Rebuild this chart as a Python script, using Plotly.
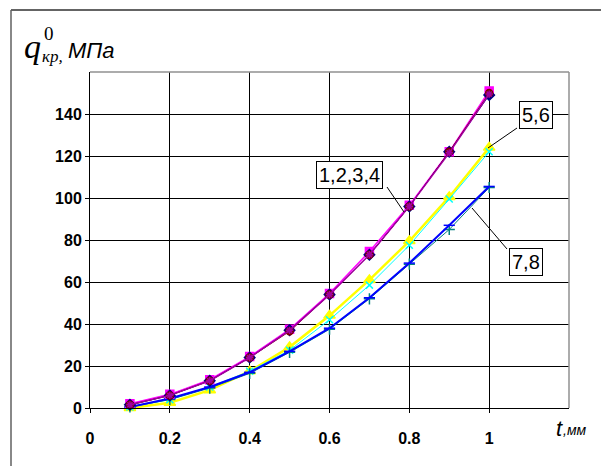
import plotly.graph_objects as go

# ---- data ----
t_mm = [0.1, 0.2, 0.3, 0.4, 0.5, 0.6, 0.7, 0.8, 0.9, 1.0]
s1_navy = [1.5, 6, 13, 24, 37, 54, 73, 96, 122, 149]
s2_magenta = [2, 6.5, 13.5, 24.5, 37.5, 54.5, 74.5, 96.5, 122, 151]
s3_purple = [1.5, 6, 13, 24, 37, 54, 73, 96, 121.5, 149.5]
s4_darkred = [1.5, 6, 13, 24, 36.5, 54, 73, 96, 122, 150]
s5_yellow = [0, 2.5, 8.5, 17.5, 29, 44, 61, 79.5, 100.5, 124]
s6_cyan = [0.5, 4, 10, 17.5, 27.5, 42, 58.5, 77.5, 99.5, 122]
s7_teal = [0.5, 4, 9.5, 16.5, 26.5, 37.5, 52, 68.5, 85, 105]
s8_blue = [0.5, 4.5, 10, 17, 27, 38, 52.5, 69, 87, 105.5]

x_tickvals = [0, 0.2, 0.4, 0.6, 0.8, 1.0]
x_ticktext = ["0", "0.2", "0.4", "0.6", "0.8", "1"]
y_tickvals = [0, 20, 40, 60, 80, 100, 120, 140]
y_ticktext = ["0", "20", "40", "60", "80", "100", "120", "140"]

group_labels = ["1,2,3,4", "5,6", "7,8"]

OFF = 8  # page body margin
W, H = 609, 466
L, R, T, B = 82, 48, 64, 66
PW, PH = W - L - R, H - T - B


def px(xp):
    return (xp - OFF - L) / PW


def py(yp):
    return (H - B + OFF - yp) / PH


series = [
    (s5_yellow, "#FFFF00", "triangle-up", 2.5, 10),
    (s6_cyan, "#00FFFF", "x-thin-open", 1.0, 7),
    (s7_teal, "#008080", "cross-thin-open", 1.0, 8),
    (s8_blue, "#0000FF", "line-ew-open", 2.0, 8),
    (s2_magenta, "#FF00FF", "square", 1.5, 8),
    (s1_navy, "#000080", "diamond", 1.0, 8),
    (s4_darkred, "#800000", "circle", 1.0, 7),
    (s3_purple, "#A000A0", "asterisk-open", 1.5, 6),
]

fig = go.Figure()
for ys, col, sym, lw, ms in series:
    fig.add_trace(go.Scatter(
        x=t_mm, y=ys, mode="lines+markers",
        line=dict(color=col, width=lw),
        marker=dict(symbol=sym, size=ms, color=col, line=dict(color=col, width=1.5)),
        showlegend=False, cliponaxis=False,
    ))

tickfont = dict(family="Liberation Sans, Arial", size=16, color="black", weight="bold")
fig.update_layout(
    width=W, height=H,
    margin=dict(l=L, r=R, t=T, b=B),
    paper_bgcolor="white", plot_bgcolor="white",
    xaxis=dict(range=[0, 1.2], tickvals=x_tickvals, ticktext=x_ticktext,
               showgrid=True, gridcolor="black", gridwidth=1,
               showline=True, linecolor="black", linewidth=1,
               ticks="outside", ticklen=4, tickcolor="black",
               tickfont=tickfont, ticklabelstandoff=12, zeroline=False),
    yaxis=dict(range=[0, 160], tickvals=y_tickvals, ticktext=y_ticktext,
               showgrid=True, gridcolor="black", gridwidth=1,
               showline=True, linecolor="black", linewidth=1,
               ticks="outside", ticklen=4, tickcolor="black",
               tickfont=tickfont, zeroline=False),
)

# plot-area top and right borders (gray)
fig.add_shape(type="line", xref="paper", yref="paper", x0=0, x1=1, y0=1, y1=1,
              line=dict(color="#909090", width=1.5))
fig.add_shape(type="line", xref="paper", yref="paper", x0=1, x1=1, y0=0, y1=1,
              line=dict(color="#909090", width=1.5))
# outer frame (top and left)
fig.add_shape(type="line", xref="paper", yref="paper", x0=px(11), x1=px(620), y0=py(10), y1=py(10),
              line=dict(color="#303030", width=1.5))
fig.add_shape(type="line", xref="paper", yref="paper", x0=px(11), x1=px(11), y0=py(10), y1=py(480),
              line=dict(color="#606060", width=1.5))

# leader lines
leaders = [((387, 187), (404, 212)), ((517, 128), (488, 148)), ((507, 249), (472, 208))]
for (a, b) in leaders:
    fig.add_shape(type="line", xref="paper", yref="paper",
                  x0=px(a[0]), y0=py(a[1]), x1=px(b[0]), y1=py(b[1]),
                  line=dict(color="black", width=1))

box_centers = [(349, 175), (536, 115), (525.5, 261.5)]
for lab, (cx, cy) in zip(group_labels, box_centers):
    fig.add_annotation(xref="paper", yref="paper", x=px(cx), y=py(cy), text=lab,
                       showarrow=False, font=dict(family="Liberation Sans, Arial", size=20, color="black"),
                       bgcolor="white", bordercolor="black", borderwidth=1, borderpad=2,
                       xanchor="center", yanchor="middle")

# y-axis title
fig.add_annotation(xref="paper", yref="paper", x=px(32), y=py(46), text="<i>q</i>", showarrow=False,
                   font=dict(family="Liberation Serif, Times New Roman", size=34, color="black"),
                   xanchor="center", yanchor="middle")
fig.add_annotation(xref="paper", yref="paper", x=px(49), y=py(34), text="0", showarrow=False,
                   font=dict(family="Liberation Serif, Times New Roman", size=19, color="black"),
                   xanchor="center", yanchor="middle")
fig.add_annotation(xref="paper", yref="paper", x=px(40), y=py(57), text="<i>кр,</i>", showarrow=False,
                   font=dict(family="Liberation Serif, Times New Roman", size=17, color="black"),
                   xanchor="left", yanchor="middle")
fig.add_annotation(xref="paper", yref="paper", x=px(66), y=py(50), text="<i>МПа</i>", showarrow=False,
                   font=dict(family="Liberation Sans, Arial", size=22, color="black"),
                   xanchor="left", yanchor="middle")

# x-axis title
fig.add_annotation(xref="paper", yref="paper", x=px(554), y=py(428), text="<i>t</i>", showarrow=False,
                   font=dict(family="Liberation Sans, Arial", size=22, color="black"),
                   xanchor="left", yanchor="middle")
fig.add_annotation(xref="paper", yref="paper", x=px(561), y=py(430), text="<i>,мм</i>", showarrow=False,
                   font=dict(family="Liberation Sans, Arial", size=14, color="black"),
                   xanchor="left", yanchor="middle")

fig.write_html("out.html")
